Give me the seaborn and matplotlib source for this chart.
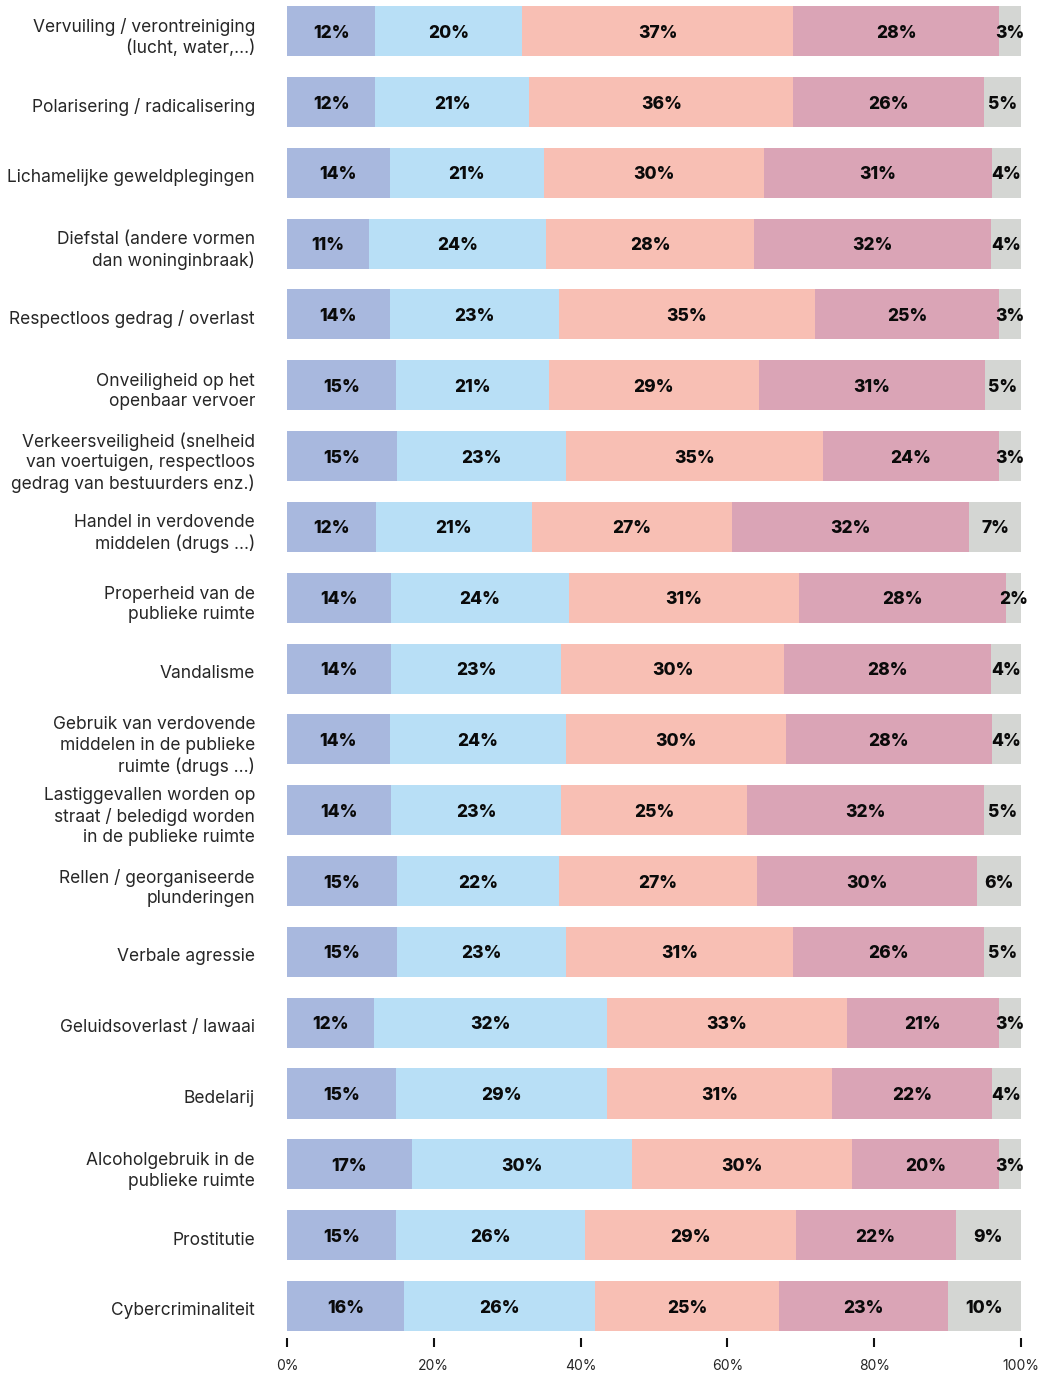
import matplotlib
matplotlib.use("Agg")
import matplotlib.pyplot as plt
import matplotlib.transforms as mtransforms
import seaborn as sns
import numpy as np
import pandas as pd

# categories, top to bottom
categories = [
    "Vervuiling / verontreiniging\n(lucht, water,…)",
    "Polarisering / radicalisering",
    "Lichamelijke geweldplegingen",
    "Diefstal (andere vormen\ndan woninginbraak)",
    "Respectloos gedrag / overlast",
    "Onveiligheid op het\nopenbaar vervoer",
    "Verkeersveiligheid (snelheid\nvan voertuigen, respectloos\ngedrag van bestuurders enz.)",
    "Handel in verdovende\nmiddelen (drugs …)",
    "Properheid van de\npublieke ruimte",
    "Vandalisme",
    "Gebruik van verdovende\nmiddelen in de publieke\nruimte (drugs …)",
    "Lastiggevallen worden op\nstraat / beledigd worden\nin de publieke ruimte",
    "Rellen / georganiseerde\nplunderingen",
    "Verbale agressie",
    "Geluidsoverlast / lawaai",
    "Bedelarij",
    "Alcoholgebruik in de\npublieke ruimte",
    "Prostitutie",
    "Cybercriminaliteit",
]

# five answer groups (percentages as printed)
seg1 = [12, 12, 14, 11, 14, 15, 15, 12, 14, 14, 14, 14, 15, 15, 12, 15, 17, 15, 16]
seg2 = [20, 21, 21, 24, 23, 21, 23, 21, 24, 23, 24, 23, 22, 23, 32, 29, 30, 26, 26]
seg3 = [37, 36, 30, 28, 35, 29, 35, 27, 31, 30, 30, 25, 27, 31, 33, 31, 30, 29, 25]
seg4 = [28, 26, 31, 32, 25, 31, 24, 32, 28, 28, 28, 32, 30, 26, 21, 22, 20, 22, 23]
seg5 = [3, 5, 4, 4, 3, 5, 3, 7, 2, 4, 4, 5, 6, 5, 3, 4, 3, 9, 10]

colors = ["#a8b8de", "#b8dff6", "#f8bfb4", "#daa4b6", "#d4d6d3"]

tick_vals = [0, 20, 40, 60, 80, 100]
tick_labels = ["0%", "20%", "40%", "60%", "80%", "100%"]

sns.set_style("white")
plt.rcParams["font.family"] = ["Inter", "DejaVu Sans"]

vals = np.array([seg1, seg2, seg3, seg4, seg5], dtype=float)
shares = vals / vals.sum(axis=0) * 100  # bars fill the full width
cum = np.cumsum(shares, axis=0)

fig = plt.figure(figsize=(10.42, 13.74), dpi=100)
ax = fig.add_axes([0.2754, 0.0313, 0.7044, 0.9643])

bar_h = 0.706
# draw cumulative layers from the widest to the narrowest
for i in range(4, -1, -1):
    df = pd.DataFrame({"cat": categories, "val": cum[i]})
    sns.barplot(data=df, x="val", y="cat", orient="h", color=colors[i],
                saturation=1, width=bar_h, linewidth=0, ax=ax)

# value labels centred in each segment
for i in range(5):
    start = cum[i] - shares[i]
    for j in range(len(categories)):
        ax.text(start[j] + shares[i][j] / 2, j + 0.03, f"{vals[i][j]:.0f}%",
                ha="center", va="center", fontsize=12.5, fontweight="heavy",
                color="#0a0a0a")

ax.set_xlim(0, 100)
ax.set_ylim(len(categories) - 1 + bar_h / 2, -bar_h / 2)
ax.set_xlabel("")
ax.set_ylabel("")
ax.set_xticks(tick_vals)
ax.set_xticklabels(tick_labels, fontsize=10.5, color="#222222")
for s in ax.spines.values():
    s.set_visible(False)
ax.spines["bottom"].set_position(("outward", 5))
ax.tick_params(axis="x", bottom=True, length=6.5, width=1.5, color="#111111", pad=9)
ax.tick_params(axis="y", left=False, length=0, pad=23, labelsize=12.5,
               labelcolor="#262626")

# nudge category labels down a little
shift = mtransforms.ScaledTranslation(0, -0.03, fig.dpi_scale_trans)
for lbl in ax.get_yticklabels():
    lbl.set_transform(lbl.get_transform() + shift)
    lbl.set_linespacing(1.25)

fig.savefig("out.png", dpi=100)
